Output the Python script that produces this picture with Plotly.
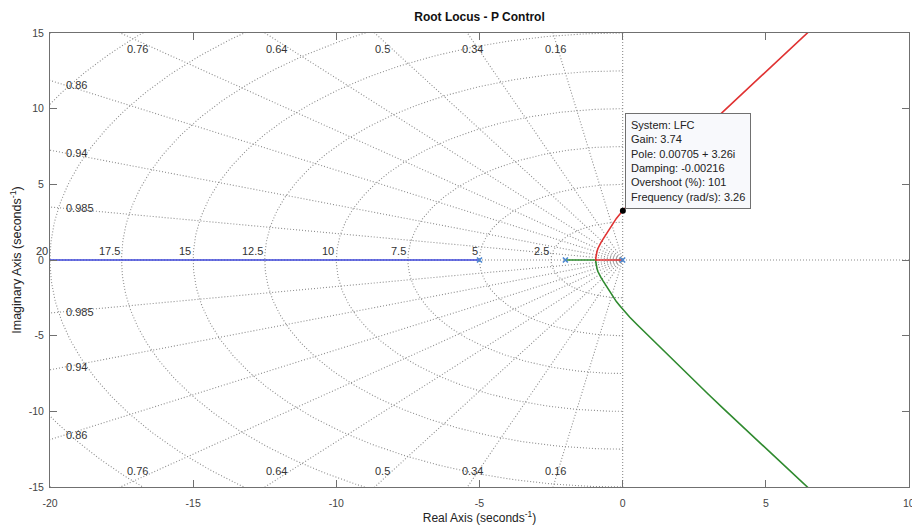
import numpy as np
import plotly.graph_objects as go

# ---------------- data ----------------
pole_re = [0.0, -2.0, -5.0]
pole_im = [0.0, 0.0, 0.0]

# red branch: origin pole -> breakaway -> upper half plane
red_re = [0.0, -0.94, -0.937, -0.93, -0.915, -0.89, -0.86, -0.82, -0.76, -0.68, -0.58,
          -0.47, -0.35, -0.22, -0.10, 0.0, 0.25, 0.5, 0.75, 1.0, 1.5, 2.0, 2.5, 3.0,
          3.5, 4.0, 4.5, 5.0, 5.5, 6.0, 6.5]
red_im = [0.0, 0.0, 0.15, 0.30, 0.45, 0.62, 0.78, 0.95, 1.15, 1.40, 1.70,
          2.05, 2.40, 2.75, 3.02, 3.26, 3.78, 4.26, 4.73, 5.2, 6.14, 7.07, 7.98, 8.89,
          9.79, 10.68, 11.56, 12.45, 13.33, 14.21, 15.09]

# green branch: pole at -2 -> breakaway -> lower half plane
green_re = [-2.0, -0.94, -0.937, -0.93, -0.915, -0.89, -0.86, -0.82, -0.76, -0.68, -0.58,
            -0.47, -0.35, -0.22, -0.10, 0.0, 0.25, 0.5, 0.75, 1.0, 1.5, 2.0, 2.5, 3.0,
            3.5, 4.0, 4.5, 5.0, 5.5, 6.0, 6.5]
green_im = [0.0, 0.0, -0.15, -0.30, -0.45, -0.62, -0.78, -0.95, -1.15, -1.40, -1.70,
            -2.05, -2.40, -2.75, -3.02, -3.26, -3.78, -4.26, -4.73, -5.2, -6.14, -7.07, -7.98, -8.89,
            -9.79, -10.68, -11.56, -12.45, -13.33, -14.21, -15.09]

# blue branch: pole at -5 -> -infinity
blue_re = [-5.0, -30.0]
blue_im = [0.0, 0.0]

# data tip
tip_re = [0.00705]
tip_im = [3.26]
tip_lines = ["System: LFC", "Gain: 3.74", "Pole: 0.00705 + 3.26i", "Damping: -0.00216",
             "Overshoot (%): 101", "Frequency (rad/s): 3.26"]

# s-grid values
zeta_vals = [0.16, 0.34, 0.5, 0.64, 0.76, 0.86, 0.94, 0.985]
zeta_labels = ["0.16", "0.34", "0.5", "0.64", "0.76", "0.86", "0.94", "0.985"]
wn_vals = [2.5, 5, 7.5, 10, 12.5, 15, 17.5, 20, 22.5, 25]
wn_label_vals = [2.5, 5, 7.5, 10, 12.5, 15, 17.5, 20]
wn_labels = ["2.5", "5", "7.5", "10", "12.5", "15", "17.5", "20"]

x_ticks = [-20, -15, -10, -5, 0, 5, 10]
x_ticktext = ["-20", "-15", "-10", "-5", "0", "5", "10"]
y_ticks = [-15, -10, -5, 0, 5, 10, 15]
y_ticktext = ["-15", "-10", "-5", "0", "5", "10", "15"]

x_range = [-20, 10]
y_range = [-15, 15]

FONT = "Liberation Sans, Arial, sans-serif"
GRID_COLOR = "#8c8c8c"
AXIS_COLOR = "#707070"

fig = go.Figure()

# ---------------- s-grid ----------------
gx, gy = [], []
R = 60.0
for z in zeta_vals:
    s = np.sqrt(1 - z * z)
    gx += [0, -R * z, None, 0, -R * z, None]
    gy += [0, R * s, None, 0, -R * s, None]
th = np.linspace(np.pi / 2, 3 * np.pi / 2, 241)
for w in wn_vals:
    gx += list(w * np.cos(th)) + [None]
    gy += list(w * np.sin(th)) + [None]
# zeta = 0 and zeta = 1 lines
gx += [0, 0, None, x_range[0], x_range[1], None]
gy += [y_range[0], y_range[1], None, 0, 0, None]

fig.add_trace(go.Scatter(x=gx, y=gy, mode="lines", hoverinfo="skip",
                         line=dict(color=GRID_COLOR, width=1.1, dash="1px,2px"),
                         showlegend=False))

# ---------------- locus branches ----------------
fig.add_trace(go.Scatter(x=blue_re, y=blue_im, mode="lines",
                         line=dict(color="#3b45d8", width=1.6), showlegend=False))
fig.add_trace(go.Scatter(x=green_re, y=green_im, mode="lines",
                         line=dict(color="#2f8a2f", width=1.6), showlegend=False))
fig.add_trace(go.Scatter(x=red_re, y=red_im, mode="lines",
                         line=dict(color="#e03232", width=1.6), showlegend=False))
fig.add_trace(go.Scatter(x=pole_re, y=pole_im, mode="markers",
                         marker=dict(symbol="x-thin", size=5, color="#4a86cf",
                                     line=dict(color="#4a86cf", width=1.6)),
                         showlegend=False))
fig.add_trace(go.Scatter(x=tip_re, y=tip_im, mode="markers",
                         marker=dict(size=6, color="black"), showlegend=False))

annotations = []
# zeta labels
for z, lab in zip(zeta_vals, zeta_labels):
    s = np.sqrt(1 - z * z)
    y_left = -x_range[0] * s / z
    if y_left > y_range[1]:
        yy = 14.5
        xx = -yy * z / s
        annotations.append(dict(x=xx, y=yy, text=lab, showarrow=False, xanchor="center",
                                yanchor="top", font=dict(size=11, color="#333", family=FONT)))
        annotations.append(dict(x=xx, y=-yy, text=lab, showarrow=False, xanchor="center",
                                yanchor="bottom", font=dict(size=11, color="#333", family=FONT)))
    else:
        xx = -19.5
        yy = -xx * s / z
        annotations.append(dict(x=xx, y=yy, text=lab, showarrow=False, xanchor="left",
                                yanchor="middle", font=dict(size=11, color="#333", family=FONT)))
        annotations.append(dict(x=xx, y=-yy, text=lab, showarrow=False, xanchor="left",
                                yanchor="middle", font=dict(size=11, color="#333", family=FONT)))
# wn labels
for w, lab in zip(wn_label_vals, wn_labels):
    annotations.append(dict(x=-w, y=0.05, text=lab, showarrow=False, xanchor="right",
                            yanchor="bottom", font=dict(size=11, color="#333", family=FONT)))
# last x tick label (sits on the figure edge, partly cut as in the reference)
annotations.append(dict(x=x_ticks[-1], xref="x", y=0, yref="paper", text=x_ticktext[-1],
                        showarrow=False, xanchor="center", yanchor="top", yshift=-8,
                        font=dict(size=10.5, color="#444", family=FONT)))
# data tip box
annotations.append(dict(x=tip_re[0], y=tip_im[0], text="<br>".join(tip_lines), showarrow=False,
                        xanchor="left", yanchor="bottom", align="left", xshift=2, yshift=2,
                        bgcolor="#f8f9fc", bordercolor="#707070", borderwidth=1, borderpad=5,
                        font=dict(size=11, color="#222", family=FONT)))

fig.update_layout(
    width=912, height=527,
    margin=dict(l=50, r=3, t=33, b=40),
    paper_bgcolor="white", plot_bgcolor="white",
    font=dict(family=FONT, color="#333"),
    title=dict(text="<b>Root Locus - P Control</b>", x=0.5, xref="paper", y=1 - 17 / 527,
               yref="container", xanchor="center", yanchor="middle",
               font=dict(size=12, color="#111", family=FONT)),
    annotations=annotations,
    showlegend=False,
)
fig.update_xaxes(range=x_range, tickvals=x_ticks[:-1], ticktext=x_ticktext[:-1], showgrid=False,
                 zeroline=False, showline=True, linecolor=AXIS_COLOR, linewidth=1, mirror="ticks",
                 ticks="inside", ticklen=7, tickcolor=AXIS_COLOR, tickwidth=1,
                 tickfont=dict(size=10.5, color="#444", family=FONT), ticklabelstandoff=6,
                 title=dict(text="Real Axis (seconds<sup>-1</sup>)", standoff=4,
                            font=dict(size=12, color="#222", family=FONT)),
                 automargin=False)
fig.update_yaxes(range=y_range, tickvals=y_ticks, ticktext=y_ticktext, showgrid=False,
                 zeroline=False, showline=True, linecolor=AXIS_COLOR, linewidth=1, mirror="ticks",
                 ticks="inside", ticklen=7, tickcolor=AXIS_COLOR, tickwidth=1,
                 tickfont=dict(size=10.5, color="#444", family=FONT), ticklabelstandoff=3,
                 title=dict(text="Imaginary Axis (seconds<sup>-1</sup>)", standoff=4,
                            font=dict(size=12.5, color="#222", family=FONT)),
                 automargin=False)

fig.write_html("out.html")
